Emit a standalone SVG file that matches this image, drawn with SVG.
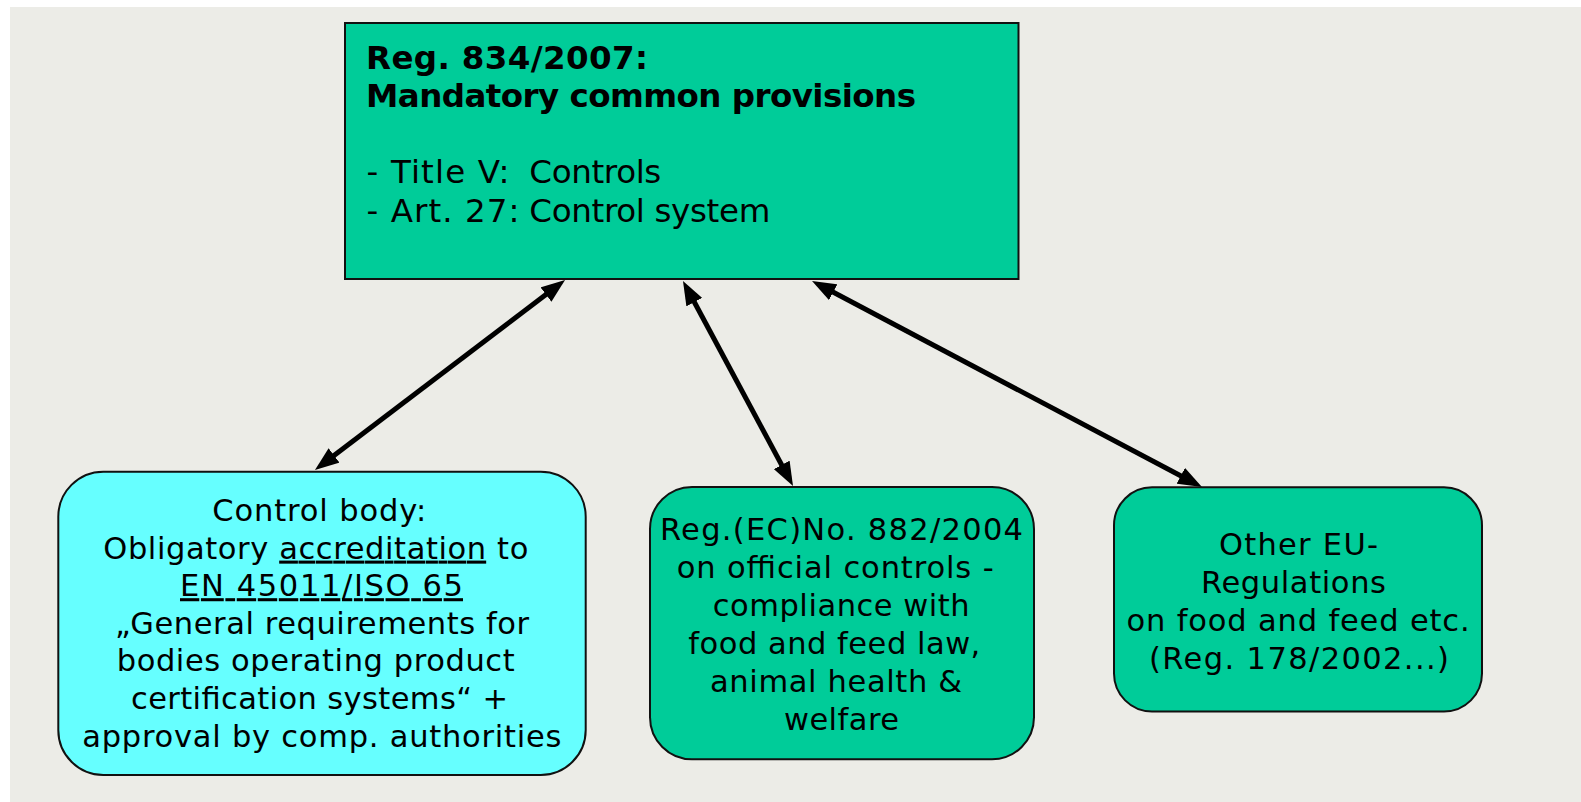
<svg xmlns="http://www.w3.org/2000/svg" width="1581" height="802" viewBox="0 0 1581 802">
<style>
text{font-family:"DejaVu Sans","Liberation Sans",sans-serif;fill:#000;}
.t32{font-size:32.5px;}
.b{font-weight:bold;}
.t29{font-size:30.5px;}
.box{stroke:#111;stroke-width:2;}
.green{fill:#00CC99;}
.cyan{fill:#66FFFF;}
.conn{stroke:#000;stroke-width:5;fill:none;marker-start:url(#ah);marker-end:url(#ah);}
.u{text-decoration:underline;}
</style>
<defs>
<marker id="ah" viewBox="0 0 24 18" markerWidth="24" markerHeight="18" markerUnits="userSpaceOnUse" refX="10" refY="9" orient="auto-start-reverse">
<path d="M0,0 L24,9 L0,18 z" fill="#000"/>
</marker>
</defs>
<rect x="0" y="0" width="1581" height="802" fill="#FFFFFF"/>
<rect x="10" y="7" width="1571" height="795" fill="#ECECE7"/>

<g id="connectors">
<line class="conn" x1="553.9" y1="288.5" x2="326.1" y2="461.5"/>
<line class="conn" x1="689.6" y1="293.3" x2="786.4" y2="473.7"/>
<line class="conn" x1="824.4" y1="287.5" x2="1189.6" y2="480.5"/>
</g>

<g id="node-reg834">
<rect class="box green" x="345" y="23" width="673.5" height="256"/>
<text class="t32 b" x="366" y="69" textLength="282" lengthAdjust="spacing">Reg. 834/2007:</text>
<text class="t32 b" x="366" y="106.7" textLength="550" lengthAdjust="spacing">Mandatory common provisions</text>
<text class="t32" x="366.5" y="182.7" textLength="143" lengthAdjust="spacing">- Title V:</text>
<text class="t32" x="529.3" y="182.7" textLength="132" lengthAdjust="spacing">Controls</text>
<text class="t32" x="366.5" y="221.7" textLength="153" lengthAdjust="spacing">- Art. 27:</text>
<text class="t32" x="529.3" y="221.7" textLength="241" lengthAdjust="spacing">Control system</text>
</g>

<g id="node-control-body">
<rect class="box cyan" x="58.3" y="471.7" width="527.4" height="303.3" rx="45" ry="45"/>
<text class="t29" x="212.3" y="521" textLength="214" lengthAdjust="spacing">Control body:</text>
<text class="t29" x="103.3" y="558.6" textLength="425" lengthAdjust="spacing">Obligatory <tspan class="u">accreditation</tspan> to</text>
<text class="t29 u" x="180" y="596.2" textLength="283" lengthAdjust="spacing">EN 45011/ISO 65</text>
<text class="t29" x="115" y="633.8" textLength="414" lengthAdjust="spacing">„General requirements for</text>
<text class="t29" x="116.7" y="671.4" textLength="398" lengthAdjust="spacing">bodies operating product</text>
<text class="t29" x="131" y="709" textLength="377" lengthAdjust="spacing">certification systems“ +</text>
<text class="t29" x="82.3" y="746.6" textLength="479" lengthAdjust="spacing">approval by comp. authorities</text>
</g>

<g id="node-reg882">
<rect class="box green" x="650" y="487" width="384" height="272.3" rx="42" ry="42"/>
<text class="t29" x="660" y="540" textLength="363" lengthAdjust="spacing">Reg.(EC)No. 882/2004</text>
<text class="t29" x="676.7" y="577.9" textLength="317" lengthAdjust="spacing">on official controls -</text>
<text class="t29" x="712.7" y="615.8" textLength="257" lengthAdjust="spacing">compliance with</text>
<text class="t29" x="688.3" y="653.7" textLength="292" lengthAdjust="spacing">food and feed law,</text>
<text class="t29" x="710" y="691.6" textLength="252" lengthAdjust="spacing">animal health &amp;</text>
<text class="t29" x="784" y="729.5" textLength="115" lengthAdjust="spacing">welfare</text>
</g>

<g id="node-other-eu">
<rect class="box green" x="1114" y="487.3" width="368" height="224.2" rx="38" ry="38"/>
<text class="t29" x="1219" y="555" textLength="159" lengthAdjust="spacing">Other EU-</text>
<text class="t29" x="1201" y="593.3" textLength="185" lengthAdjust="spacing">Regulations</text>
<text class="t29" x="1126.6" y="631" textLength="343" lengthAdjust="spacing">on food and feed etc.</text>
<text class="t29" x="1149" y="669.3" textLength="300" lengthAdjust="spacing">(Reg. 178/2002...)</text>
</g>
</svg>
